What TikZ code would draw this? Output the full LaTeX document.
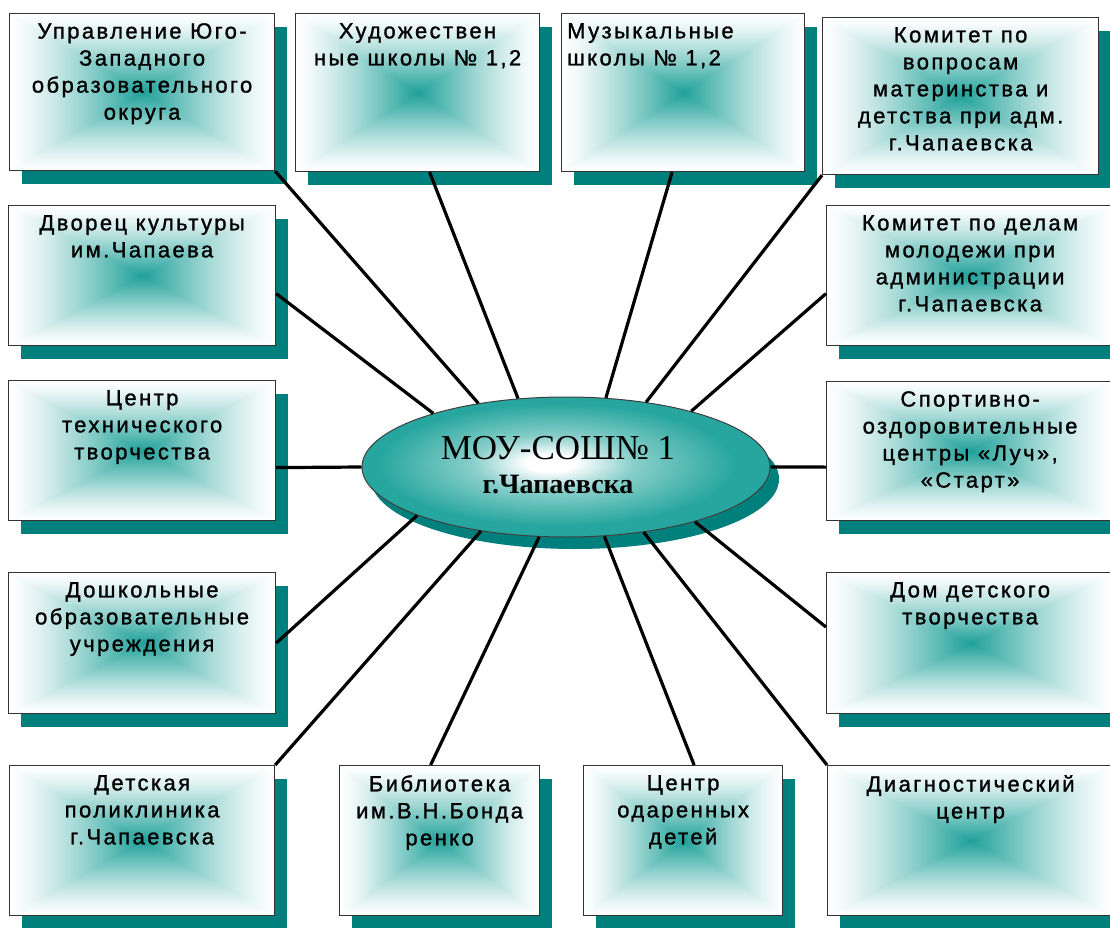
\documentclass[tikz,border=0pt]{standalone}
\usepackage{fontspec}
\setmainfont{Liberation Sans}
\newfontfamily\boxfont[LetterSpace=11, FakeBold=1.2]{Liberation Sans}
\newfontfamily\ellfont{Liberation Serif}
\usetikzlibrary{positioning, shapes.geometric, shadows}

\definecolor{shadowteal}{RGB}{0,128,125}
\definecolor{ellteal}{RGB}{38,166,158}

% teal glow in the middle of each box, white towards the border
\pgfdeclarefunctionalshading{boxglow}{\pgfpointorigin}{\pgfpoint{100bp}{100bp}}{}{
  50 sub abs exch 50 sub abs
  2 copy lt {exch} if pop
  25 div 1 exch sub
  dup 0 lt {pop 0} if
  1.3 exp
  dup 0.88 mul 1 exch sub exch
  dup 0.37 mul 1 exch sub exch
  0.40 mul 1 exch sub
}
\pgfdeclareradialshading{ellglow}{\pgfpoint{-2bp}{1.5bp}}{color(0bp)=(white); color(3bp)=(white); color(10bp)=(ellteal!55!white); color(22bp)=(ellteal); color(25bp)=(ellteal); color(50bp)=(ellteal)}

\begin{document}
\begin{tikzpicture}
    [
        x=1pt, y=-1pt,
        org_box/.style={rectangle, draw=black!80, line width=1.2pt, anchor=north west, inner sep=0pt, shade, shading=boxglow,
            drop shadow={shadow xshift=12pt, shadow yshift=-13pt, fill=shadowteal, opacity=1}},
        box_text/.style={anchor=north, yshift=-10pt, align=center, inner sep=0pt, font=\boxfont\fontsize{22}{27}\selectfont},
        hub_node/.style={ellipse, draw=black!75, line width=1pt, inner sep=0pt, shade, shading=ellglow,
            minimum width=408pt, minimum height=140pt,
            drop shadow={shadow xshift=9pt, shadow yshift=-12pt, fill=shadowteal, opacity=1}},
        link_line/.style={line width=3.2pt, color=black},
    ]
        \fill[white] (0,0) rectangle (1110,928);
        \path[use as bounding box] (0,0) rectangle (1110,928);
        \clip (0,0) rectangle (1110,928);

        % top row
        \node[org_box, minimum width=265pt, minimum height=157pt, label={[box_text]north:{Управление Юго-\\Западного\\образовательного\\округа}}] (b1) at (9,13) {};
        \node[org_box, minimum width=244pt, minimum height=158pt, label={[box_text]north:{Художествен\\ные школы № 1,2}}] (b2) at (295,13) {};
        \node[org_box, minimum width=243pt, minimum height=158pt, label={[box_text, anchor=north west, align=left, xshift=6pt]north west:{Музыкальные\\школы № 1,2}}] (b3) at (561,13) {};
        \node[org_box, minimum width=276pt, minimum height=157pt, label={[box_text]north:{Комитет по\\вопросам\\материнства и\\детства при адм.\\г.Чапаевска}}] (b4) at (822,17) {};

        % left and right columns
        \node[org_box, minimum width=267pt, minimum height=140pt, label={[box_text]north:{Дворец культуры\\им.Чапаева}}] (b5) at (8,205) {};
        \node[org_box, minimum width=287pt, minimum height=140pt, label={[box_text]north:{Комитет по делам\\молодежи при\\администрации\\г.Чапаевска}}] (b6) at (826,205) {};
        \node[org_box, minimum width=267pt, minimum height=140pt, label={[box_text]north:{Центр\\технического\\творчества}}] (b7) at (8,380) {};
        \node[org_box, minimum width=287pt, minimum height=139pt, label={[box_text]north:{Спортивно-\\оздоровительные\\центры «Луч»,\\«Старт»}}] (b8) at (826,381) {};
        \node[org_box, minimum width=267pt, minimum height=141pt, label={[box_text]north:{Дошкольные\\образовательные\\учреждения}}] (b9) at (8,572) {};
        \node[org_box, minimum width=287pt, minimum height=141pt, label={[box_text]north:{Дом детского\\творчества}}] (b10) at (826,572) {};

        % bottom row
        \node[org_box, minimum width=265pt, minimum height=150pt, label={[box_text]north:{Детская\\поликлиника\\г.Чапаевска}}] (b11) at (9,765) {};
        \node[org_box, minimum width=200pt, minimum height=150pt, label={[box_text]north:{Библиотека\\им.В.Н.Бонда\\ренко}}] (b12) at (339,765) {};
        \node[org_box, minimum width=199pt, minimum height=150pt, label={[box_text]north:{Центр\\одаренных\\детей}}] (b13) at (583,765) {};
        \node[org_box, minimum width=286pt, minimum height=150pt, label={[box_text]north:{Диагностический\\центр}}] (b14) at (827,765) {};

        % school in the middle
        \node[hub_node, label={[anchor=center, xshift=-8pt, yshift=2pt, align=center, inner sep=0pt, font=\ellfont\fontsize{35}{34}\selectfont]center:{МОУ-СОШ№ 1\\{\bfseries\fontsize{28}{34}\selectfont г.Чапаевска}}}] (hub) at (566,467) {};

        \draw[link_line] (b1.south east) -- (hub.144);
        \draw[link_line] ([xshift=12pt]b2.south) -- (hub.125);
        \draw[link_line] ([xshift=-11pt]b3.south) -- (hub.60);
        \draw[link_line] (b4.south west) -- (hub.39);
        \draw[link_line] ([yshift=-18pt]b5.east) -- (hub.158);
        \draw[link_line] ([yshift=-18pt]b6.west) -- (hub.24);
        \draw[link_line] ([yshift=-17pt]b7.east) -- (hub.180);
        \draw[link_line] ([yshift=-16pt]b8.west) -- (hub.0);
        \draw[link_line] (b9.east) -- (hub.198);
        \draw[link_line] ([yshift=16pt]b10.west) -- (hub.337);
        \draw[link_line] (b11.north east) -- (hub.217);
        \draw[link_line] ([xshift=-9pt]b12.north) -- (hub.249);
        \draw[link_line] ([xshift=11pt]b13.north) -- (hub.299);
        \draw[link_line] (b14.north west) -- (hub.320);
    \end{tikzpicture}
\end{document}
